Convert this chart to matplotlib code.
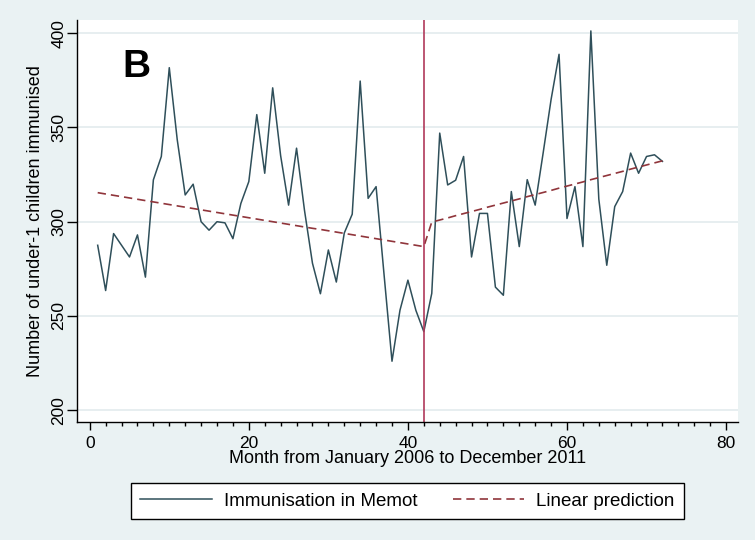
import matplotlib
matplotlib.use('Agg')
import matplotlib.pyplot as plt
from matplotlib.ticker import MultipleLocator

plt.rcParams['font.family'] = ['Liberation Sans', 'DejaVu Sans']

# monthly counts, Jan 2006 - Dec 2011
months = list(range(1, 73))
immunised = [287.5, 263.5, 293.7, 287.5, 281.3, 293.0, 270.6, 322.2, 334.6, 381.7,
             343.5, 314.2, 319.9, 300.0, 295.5, 300.0, 299.4, 291.0, 309.7, 321.3,
             356.8, 325.7, 371.0, 335.0, 308.8, 339.0, 306.0, 278.0, 261.8, 285.0,
             268.0, 294.0, 304.0, 374.6, 312.4, 318.6, 272.0, 226.0, 253.0, 269.0,
             253.0, 241.7, 262.0, 347.0, 319.5, 322.0, 334.6, 281.3, 304.4, 304.4,
             265.3, 261.0, 316.0, 286.8, 322.3, 308.8, 336.4, 364.8, 388.8, 301.7,
             318.6, 286.8, 401.2, 312.0, 276.9, 308.0, 316.0, 336.4, 325.7, 334.6,
             335.5, 332.0]
prediction = [315.4, 314.7, 314.0, 313.3, 312.6, 311.9, 311.2, 310.5, 309.8, 309.1,
              308.4, 307.7, 307.0, 306.3, 305.6, 304.9, 304.2, 303.5, 302.8, 302.1,
              301.4, 300.7, 300.0, 299.3, 298.6, 297.9, 297.2, 296.5, 295.9, 295.2,
              294.5, 293.8, 293.1, 292.4, 291.7, 291.0, 290.3, 289.6, 288.9, 288.2,
              287.5, 286.8, 299.8, 300.9, 302.0, 303.2, 304.3, 305.4, 306.5, 307.7,
              308.8, 309.9, 311.0, 312.1, 313.3, 314.4, 315.5, 316.6, 317.8, 318.9,
              320.0, 321.1, 322.3, 323.4, 324.5, 325.6, 326.7, 327.9, 329.0, 330.1,
              331.2, 332.3]
intervention = 42

bg = '#EAF2F3'
fig = plt.figure(figsize=(7.55, 5.4), dpi=100, facecolor=bg)
ax = fig.add_axes([0.102, 0.2176, 0.8755, 0.7454])
ax.set_facecolor('white')

ax.plot(months, immunised, color='#2F4F5A', lw=1.1, label='Immunisation in Memot')
ax.plot(months, prediction, color='#90353B', lw=1.2, linestyle=(0, (5, 3)),
        label='Linear prediction')
ax.axvline(intervention, color='#B03A5B', lw=1.2)

ax.set_xlim(-1.6, 81.5)
ax.set_ylim(193.5, 407)
ax.set_xticks([0, 20, 40, 60, 80])
ax.xaxis.set_minor_locator(MultipleLocator(2))
ax.set_yticks([200, 250, 300, 350, 400])
ax.yaxis.grid(True, color='#E3EBED', lw=1.2)
ax.set_axisbelow(True)

for s in ['top', 'right']:
    ax.spines[s].set_visible(False)
for s in ['left', 'bottom']:
    ax.spines[s].set_linewidth(1.0)

ax.tick_params(axis='x', which='major', length=6, width=1, labelsize=12.5, pad=4)
ax.tick_params(axis='x', which='minor', length=3, width=1)
ax.tick_params(axis='y', length=7, width=1, labelsize=12.5, pad=0.5)
for lab in ax.get_yticklabels():
    lab.set_rotation(90)
    lab.set_va('center')

ax.set_xlabel('Month from January 2006 to December 2011', fontsize=13)
ax.xaxis.set_label_coords(0.5, -0.068)
ax.set_ylabel('Number of under-1 children immunised', fontsize=13)
ax.yaxis.set_label_coords(-0.05, 0.5)

fig.text(136 / 755, 1 - 77 / 540, 'B', fontsize=28, fontweight='bold',
         ha='center', va='baseline')

leg = ax.legend(loc='center', bbox_to_anchor=(0.5, -0.195), ncol=2, fontsize=13.5,
                frameon=True, fancybox=False, handlelength=3.8, handletextpad=0.65,
                columnspacing=1.9, borderpad=0.5)
leg.get_frame().set_edgecolor('black')
leg.get_frame().set_linewidth(1.0)
leg.get_frame().set_alpha(1)

plt.savefig('out.png', dpi=100, facecolor=bg)
